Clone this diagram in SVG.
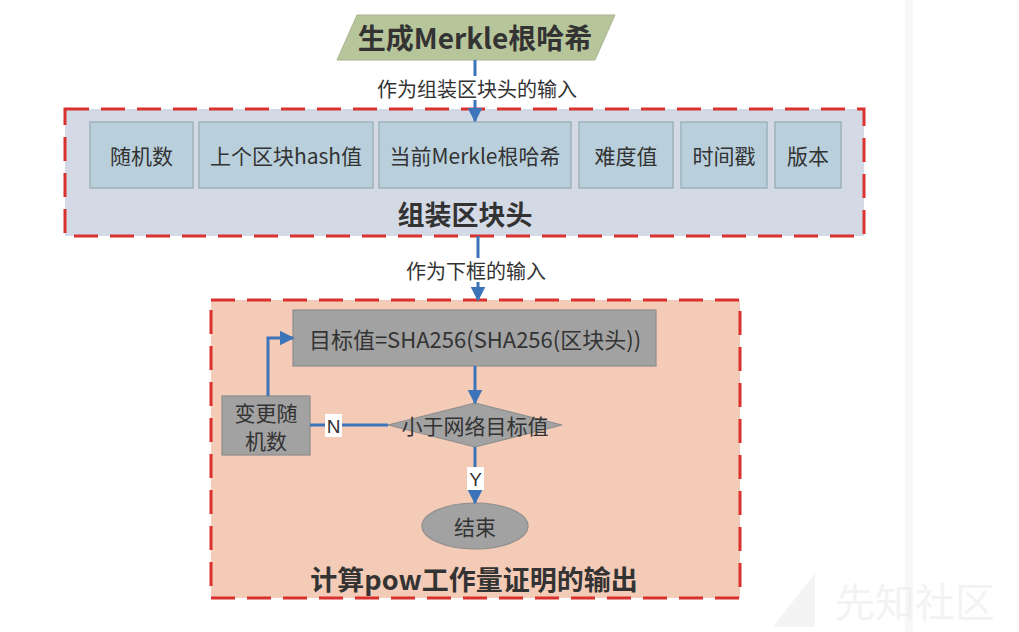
<svg xmlns="http://www.w3.org/2000/svg" width="1019" height="632" viewBox="0 0 1019 632">
<defs>
<style>
text{font-family:"Noto Sans CJK SC","Liberation Sans",sans-serif;fill:#333;text-anchor:middle;dominant-baseline:central}
.field{fill:#b9d0dc;stroke:#9fb2bb;stroke-width:1.5}
.gray{fill:#a2a2a2;stroke:#8d8d8d;stroke-width:1.2}
.frame{stroke:#d9312e;stroke-width:3;stroke-dasharray:24 12}
.conn{fill:none;stroke:#3b74b8;stroke-width:3}
.t18{font-size:21px}
.t16{font-size:20px}
.big{font-size:27px;font-weight:bold}
.lbl{fill:#fff}
</style>
<marker id="arr" viewBox="0 0 10 10" refX="9" refY="5" markerWidth="5" markerHeight="5" orient="auto" markerUnits="strokeWidth">
<path d="M0,0 L10,5 L0,10 z" fill="#3b74b8"/>
</marker>
</defs>
<rect width="1019" height="632" fill="#fff"/>
<rect x="905" y="0" width="8" height="632" fill="#f7f7f7"/>

<g id="watermark" opacity="0.6">
<polygon points="815,573 815,627 773,627" fill="#eeeeee"/>
<text x="915" y="600" style="font-size:40px;fill:#ececec">先知社区</text>
</g>

<g id="block-header">
<rect x="65" y="109" width="799" height="127" fill="#d3dae6" class="frame"/>
<text x="465" y="213" class="big">组装区块头</text>
</g>
<g id="f-nonce"><rect x="90" y="122" width="103" height="66" class="field"/><text x="141.5" y="155" class="t18">随机数</text></g>
<g id="f-prevhash"><rect x="199" y="122" width="174" height="66" class="field"/><text x="286" y="155" class="t18">上个区块hash值</text></g>
<g id="f-merkle"><rect x="379" y="122" width="192" height="66" class="field"/><text x="475" y="155" class="t18">当前Merkle根哈希</text></g>
<g id="f-difficulty"><rect x="579" y="122" width="94" height="66" class="field"/><text x="626" y="155" class="t18">难度值</text></g>
<g id="f-time"><rect x="681" y="122" width="86" height="66" class="field"/><text x="724" y="155" class="t18">时间戳</text></g>
<g id="f-version"><rect x="775" y="122" width="66" height="66" class="field"/><text x="808" y="155" class="t18">版本</text></g>

<g id="pow">
<rect x="211" y="300" width="529" height="298" fill="#f3cbb6" class="frame"/>
<text x="474" y="578" class="big">计算pow工作量证明的输出</text>
</g>

<g id="merkle-root">
<polygon points="357,15 615,15 595,60 337,60" fill="#b7c59b" stroke="#a9b48f" stroke-width="1"/>
<text x="475" y="37" style="font-size:28px;font-weight:bold">生成Merkle根哈希</text>
</g>

<g id="sha"><rect x="293" y="310" width="363" height="56" class="gray"/><text x="475" y="338" style="font-size:22px">目标值=SHA256(SHA256(区块头))</text></g>
<g id="check"><polygon points="475,403 562,425 475,447 388,425" class="gray"/><text x="475" y="425" class="t18">小于网络目标值</text></g>
<g id="change-nonce"><rect x="222" y="396" width="88" height="59" class="gray"/><text x="266" y="412" class="t18">变更随</text><text x="266" y="440" class="t18">机数</text></g>
<g id="end"><ellipse cx="475" cy="526" rx="53" ry="23" class="gray"/><text x="475" y="526" class="t18">结束</text></g>

<g id="connectors">
<line x1="475" y1="60" x2="475" y2="121" class="conn" marker-end="url(#arr)"/>
<rect x="370" y="76" width="214" height="24" class="lbl"/>
<text x="477" y="88" class="t16">作为组装区块头的输入</text>

<line x1="478" y1="236" x2="478" y2="300" class="conn" marker-end="url(#arr)"/>
<rect x="400" y="258" width="154" height="24" class="lbl"/>
<text x="476" y="270" class="t16">作为下框的输入</text>

<line x1="475" y1="366" x2="475" y2="403" class="conn" marker-end="url(#arr)"/>
<line x1="388" y1="425" x2="310" y2="425" class="conn"/>
<rect x="325" y="414" width="17" height="23" class="lbl"/>
<text x="333.5" y="426" style="font-family:'Liberation Sans',sans-serif;font-size:19px">N</text>
<polyline points="268,396 268,338 293,338" class="conn" marker-end="url(#arr)"/>
<line x1="475" y1="447" x2="475" y2="503" class="conn" marker-end="url(#arr)"/>
<rect x="467" y="467" width="17" height="23" class="lbl"/>
<text x="475.5" y="479" style="font-family:'Liberation Sans',sans-serif;font-size:19px">Y</text>
</g>
</svg>
